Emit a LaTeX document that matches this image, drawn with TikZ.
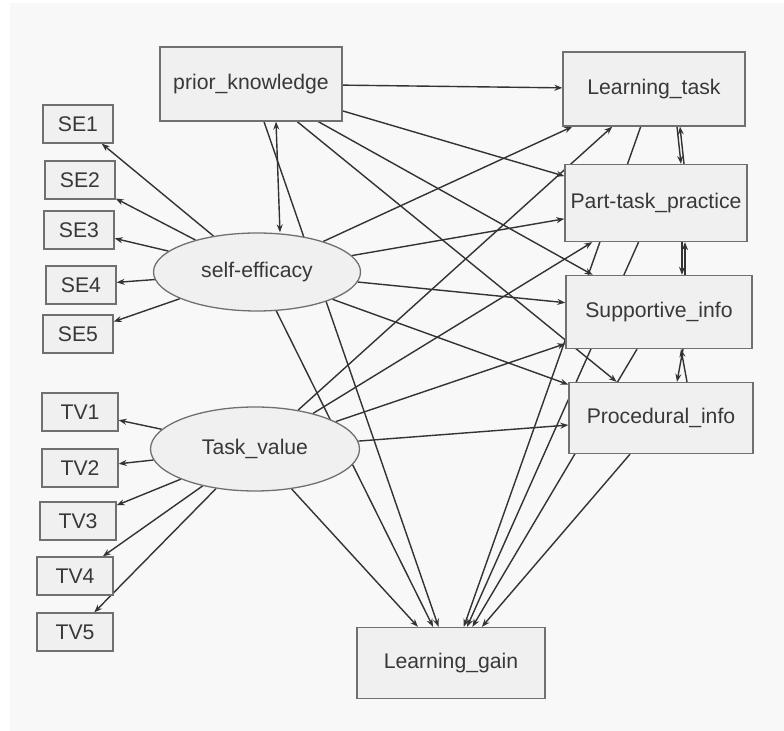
\documentclass[tikz,border=0pt]{standalone}
\usepackage{fontspec}
\setmainfont{Liberation Sans}
\usepackage{xcolor}
\usetikzlibrary{shapes}
\usetikzlibrary{arrows.meta}
\usetikzlibrary{backgrounds}

\definecolor{boxfill}{HTML}{F0F0F0}
\definecolor{boxline}{HTML}{707070}
\definecolor{pathcol}{HTML}{333333}
\definecolor{panel}{HTML}{F8F8F8}
\definecolor{txt}{HTML}{383838}

\tikzset{
  obs/.style={draw=boxline, fill=boxfill, line width=0.65pt, text=txt, inner sep=0pt,
    minimum width=91pt, minimum height=37pt},
  ind/.style={obs, minimum width=35pt, minimum height=19pt},
  lat/.style={draw=boxline, fill=boxfill, ellipse, line width=0.65pt, text=txt, inner sep=0pt,
    minimum width=103.5pt, minimum height=39pt},
  regr/.style={draw=pathcol, line width=0.7pt, -{Stealth[length=4pt,width=3pt]}},
  cov/.style={regr, {Stealth[length=4pt,width=3pt]}-{Stealth[length=4pt,width=3pt]}}
}

\begin{document}
\begin{tikzpicture}[x=0.5pt, y=-0.5pt, font=\fontsize{10.6}{12}\selectfont]
\useasboundingbox (0,0) rectangle (784,731);
\node[obs] (pk) at (251,84) {prior\_knowledge};
\node[obs] (lt) at (654,89) {Learning\_task};
\node[obs, minimum height=38.5pt] (ptp) at (656,203) {Part-task\_practice};
\node[obs, minimum width=93pt, minimum height=36.5pt] (si) at (659,312) {Supportive\_info};
\node[obs, minimum width=92pt, minimum height=35.5pt] (pi) at (661,418) {Procedural\_info};
\node[obs, minimum width=94pt, minimum height=35.5pt] (lg) at (451,663) {Learning\_gain};
\node[lat] (se) at (257,272) {self-efficacy};
\node[lat, minimum width=104.5pt, minimum height=42pt] (tv) at (255,449) {Task\_value};
% indicators
\foreach \i/\x/\y in {1/78/124, 2/80/180, 3/79/230, 4/81/285, 5/78/334}
  \node[ind] (se\i) at (\x,\y) {SE\i};
\foreach \i/\x/\y in {1/80/412, 2/80/468, 3/78/521, 4/75/576, 5/75/632}
  \node[ind, minimum width=38pt] (tv\i) at (\x,\y) {TV\i};

\begin{scope}[on background layer]
\fill[white] (0,0) rectangle (784,731);
\fill[panel] (10,3) rectangle (784,731);
\foreach \i in {1,...,5} {
  \draw[regr] (se) -- (se\i);
  \draw[regr] (tv) -- (tv\i);
}
\foreach \m in {lt,ptp,si,pi} {
  \draw[regr] (pk) -- (\m);
  \draw[regr] (se) -- (\m);
  \draw[regr] (tv) -- (\m);
  \draw[regr] (\m) -- (lg);
}
\foreach \p in {pk,se,tv}
  \path[regr] (\p) edge (lg);
\draw[cov] ([xshift=12.5pt]pk.south) -- ([xshift=11.5pt]se.north);
%\draw[cov] (lt) -- (ptp);
\draw[regr] ([xshift=11.5pt]lt.south) -- ([xshift=12.5pt]ptp.north);
\draw[regr] ([xshift=14pt]ptp.north) -- ([xshift=13pt]lt.south);
\draw[regr] ([xshift=13pt]ptp.south) -- ([xshift=11.5pt]si.north);
\draw[regr] ([xshift=13pt]si.north) -- ([xshift=14.5pt]ptp.south);
\draw[regr] ([xshift=12pt]si.south) -- ([xshift=8pt]pi.north);
\draw[regr] ([xshift=13pt]pi.north) -- ([xshift=11pt]si.south);
\end{scope}
\end{tikzpicture}
\end{document}
